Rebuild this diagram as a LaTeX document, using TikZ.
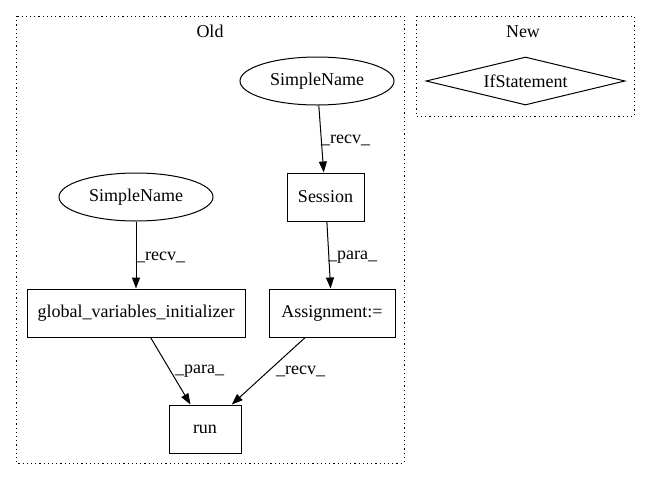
\documentclass[tikz,border=0pt]{standalone}
\usepackage{fontspec}
\setmainfont{Liberation Serif}
\usetikzlibrary{arrows.meta,shapes.geometric}
\tikzset{gvfont/.style={font=\fontsize{18}{21}\selectfont}}
\begin{document}
\begin{tikzpicture}[x=1pt,y=-1pt,
  box/.style={gvfont,draw,line width=1pt,rectangle,minimum height=48pt,inner sep=0pt},
  ell/.style={gvfont,draw,line width=1pt,ellipse,minimum width=154pt,minimum height=48pt,inner sep=0pt},
  dia/.style={gvfont,draw,line width=1pt,diamond,aspect=4.15,minimum width=199pt,minimum height=48pt,inner sep=0pt},
  cluster/.style={draw,line width=1pt,dash pattern=on 1.2pt off 3pt},
  edge/.style={draw,line width=1pt,-{Triangle[length=11pt,width=8pt]}},
  elabel/.style={gvfont,anchor=west,inner sep=0pt},
  title/.style={gvfont}]
\useasboundingbox (0,0) rectangle (651,480);
\draw[cluster] (16,16) rectangle (404,463);
\draw[cluster] (416,16) rectangle (634,116);
\node[title] (old) at (210,31) {Old};
\node[title] (new) at (523,32) {New};
\node[ell] (sn1) at (317,81) {SimpleName};
\node[box,minimum width=77pt] (session) at (325.5,197) {Session};
\node[ell] (sn2) at (136,197) {SimpleName};
\node[box,minimum width=218pt] (gvi) at (136,313) {global\_variables\_initializer};
\node[box,minimum width=126pt] (assign) at (332,313) {Assignment:=};
\node[box,minimum width=72pt] (run) at (205,429) {run};
\node[dia] (ifs) at (525.5,81) {IfStatement};
\draw[edge] (sn1) -- (session);
\draw[edge] (session) -- (assign);
\draw[edge] (sn2) -- (gvi);
\draw[edge] (gvi) -- (run);
\draw[edge] (assign) -- (run);
\node[elabel] (l1) at (321,140) {\_recv\_};
\node[elabel] (l2) at (136,257) {\_recv\_};
\node[elabel] (l3) at (328,257) {\_para\_};
\node[elabel] (l4) at (175,371) {\_para\_};
\node[elabel] (l5) at (276,371) {\_recv\_};
\end{tikzpicture}
\end{document}
